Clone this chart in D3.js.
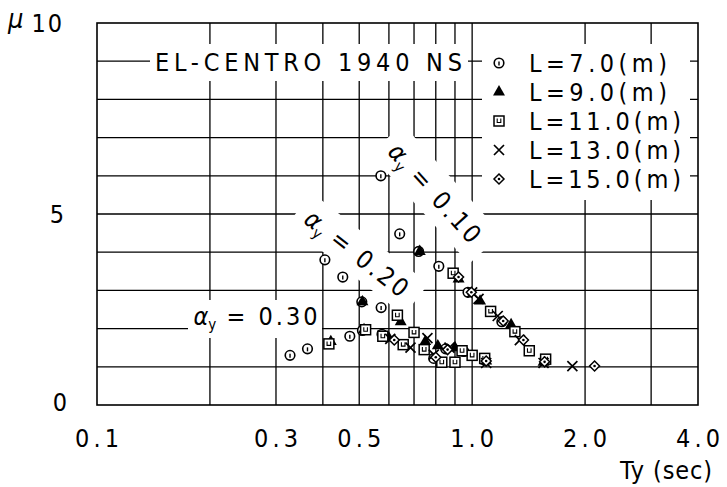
<!DOCTYPE html>
<html>
<head>
<meta charset="utf-8">
<script src="https://cdnjs.cloudflare.com/ajax/libs/d3/7.8.5/d3.min.js"></script>
<style>
  body { margin: 0; background: #fff; }
  text { font-family: "DejaVu Sans Condensed", "DejaVu Sans", sans-serif; font-stretch: condensed; fill: #000; }
</style>
</head>
<body>
<div id="chart"></div>
<script>
var width = 727
var height = 487

// data: [Ty (sec), mu] per series
var l7 = [[0.571,6.0],[0.641,4.48],[0.72,4.02],[0.815,3.63],[0.975,2.95],[1.2,2.18],
          [0.405,3.8],[0.452,3.35],[0.508,2.7],[0.572,2.55],
          [0.327,1.3],[0.364,1.47],[0.472,1.8],[0.51,1.95],[0.575,1.85],[0.79,1.22],[0.85,1.47],[0.95,1.4],[1.08,1.18]]
var l9 = [[0.725,4.02],[0.92,3.3],[1.05,2.72],[1.27,2.1],[1.55,1.12],
          [0.51,2.7],[0.645,2.18],
          [0.42,1.66],[0.515,1.97],[0.6,1.75],[0.75,1.66],[0.81,1.55],[0.9,1.5],[1.09,1.15]]
var l11 = [[0.89,3.45],[1.12,2.45],[1.3,1.92],[1.42,1.42],[1.57,1.2],
           [0.632,2.35],[0.7,1.9],[0.83,1.12],[0.9,1.12],[1.0,1.3],
           [0.415,1.6],[0.52,1.97],[0.578,1.8],[0.655,1.58],[0.745,1.45],[0.94,1.42],[1.08,1.22]]
var l13 = [[1.0,2.95],[1.04,2.78],[1.17,2.33],[1.34,1.7],[1.55,1.1],[1.85,1.02],
           [0.605,1.73],[0.685,1.5],[0.76,1.75],[0.87,1.5],[0.79,1.32],[1.09,1.1]]
var l15 = [[1.21,2.2],[1.37,1.7],[1.56,1.13],[2.12,1.02],[0.92,3.35],
           [0.62,1.7],[0.8,1.25],[0.86,1.45],[1.09,1.15],[0.995,2.95]]

var seriesNames = ["L=7.0(m)", "L=9.0(m)", "L=11.0(m)", "L=13.0(m)", "L=15.0(m)"]
var seriesSymbols = ["circle", "triangle", "square", "cross", "diamond"]
var xTickValues = [0.1, 0.3, 0.5, 1.0, 2.0, 4.0]
var xTickLabels = ["0.1", "0.3", "0.5", "1.0", "2.0", "4.0"]
var xGridValues = [0.2, 0.3, 0.4, 0.5, 0.6, 0.7, 0.8, 0.9, 1.0, 2.0, 3.0]
var yTickValues = [0, 5, 10]
var yGridValues = [1, 2, 3, 4, 5, 6, 7, 8, 9]

var svg = d3.select("#chart").append("svg")
    .attr("width", width)
    .attr("height", height)

var x = d3.scaleLog().domain([0.1, 4.0]).range([97, 698])
var y = d3.scaleLinear().domain([0, 10]).range([405, 23])

// grid
svg.append("g").selectAll("line").data(xGridValues).enter().append("line")
    .attr("x1", d => x(d)).attr("x2", d => x(d))
    .attr("y1", y(10)).attr("y2", y(0))
    .attr("stroke", "#000").attr("stroke-width", 1.3)
svg.append("g").selectAll("line").data(yGridValues).enter().append("line")
    .attr("x1", x(0.1)).attr("x2", x(4.0))
    .attr("y1", d => y(d)).attr("y2", d => y(d))
    .attr("stroke", "#000").attr("stroke-width", 1.3)

// white masks behind labels
var masks = svg.append("g").attr("fill", "#fff")
masks.append("rect").attr("x", 150).attr("y", 44).attr("width", 318).attr("height", 37)
masks.append("rect").attr("x", 482).attr("y", 44).attr("width", 208).attr("height", 156)
masks.append("rect").attr("x", 188).attr("y", 300).attr("width", 134).attr("height", 38)
masks.append("rect").attr("x", -74).attr("y", -22).attr("width", 148).attr("height", 44)
    .attr("transform", "translate(436,194) rotate(48)")
masks.append("rect").attr("x", -74).attr("y", -20).attr("width", 148).attr("height", 40)
    .attr("transform", "translate(358,254) rotate(38)")

// frame
svg.append("rect")
    .attr("x", x(0.1)).attr("y", y(10))
    .attr("width", x(4.0) - x(0.1)).attr("height", y(0) - y(10))
    .attr("fill", "none").attr("stroke", "#000").attr("stroke-width", 1.6)

// symbols
function drawSymbol(g, type, cx, cy) {
    if (type == "circle") {
        g.append("circle").attr("cx", cx).attr("cy", cy).attr("r", 4.8)
            .attr("fill", "#fff").attr("stroke", "#000").attr("stroke-width", 1.6)
        g.append("line").attr("x1", cx).attr("x2", cx).attr("y1", cy - 1.5).attr("y2", cy + 2.5)
            .attr("stroke", "#000").attr("stroke-width", 1.4)
    } else if (type == "triangle") {
        g.append("path").attr("d", d3.symbol().type(d3.symbolTriangle).size(62)())
            .attr("transform", "translate(" + cx + "," + cy + ")").attr("fill", "#000")
    } else if (type == "square") {
        g.append("rect").attr("x", cx - 5).attr("y", cy - 5).attr("width", 10).attr("height", 10)
            .attr("fill", "#fff").attr("stroke", "#000").attr("stroke-width", 1.5)
        g.append("path").attr("d", "M" + (cx - 1.8) + "," + (cy - 2.5) + "v4h3.6v-4")
            .attr("fill", "none").attr("stroke", "#000").attr("stroke-width", 1.1)
    } else if (type == "cross") {
        g.append("path").attr("d", "M" + (cx - 5) + "," + (cy - 5) + "l10,10M" + (cx + 5) + "," + (cy - 5) + "l-10,10")
            .attr("stroke", "#000").attr("stroke-width", 1.7)
    } else if (type == "diamond") {
        g.append("path").attr("d", "M" + cx + "," + (cy - 5) + "l5,5l-5,5l-5,-5z")
            .attr("fill", "#fff").attr("stroke", "#000").attr("stroke-width", 1.5)
        g.append("circle").attr("cx", cx).attr("cy", cy).attr("r", 1.3).attr("fill", "#000")
    }
}

var allSeries = [l7, l9, l11, l13, l15]
allSeries.forEach(function(data, i) {
    var g = svg.append("g")
    data.forEach(function(d) {
        drawSymbol(g, seriesSymbols[i], x(d[0]), y(d[1]))
    })
})

// text helper
function label(txt, px, py, size, len, anchor) {
    var t = svg.append("text").attr("x", px).attr("y", py)
        .attr("font-size", size).text(txt)
    if (anchor) t.attr("text-anchor", anchor)
    if (len) t.attr("textLength", len).attr("lengthAdjust", "spacing")
    return t
}

// axes labels
xTickValues.forEach(function(v, i) {
    label(xTickLabels[i], x(v), 447, 25, 44, "middle")
})
label("10", 64, 32, 25, null, "end").attr("letter-spacing", 2)
label("5", 64, 223, 25, null, "end")
label("0", 67, 411, 25, null, "end")
label("\u03bc", 8, 28, 27, null, null).attr("font-style", "italic")
label("Ty (sec)", 712, 479, 25, 92, "end")

// title
label("EL-CENTRO 1940 NS", 155, 71, 25, 307, null)

// legend
var legendY = [63, 92, 121, 150, 179]
seriesNames.forEach(function(name, i) {
    var g = svg.append("g")
    drawSymbol(g, seriesSymbols[i], 499, legendY[i])
    label(name, 529, legendY[i] + 9, 25, name.length == 8 ? 138 : 152, null)
})

// alpha labels
function alphaLabel(val, tx, ty, ang) {
    var t = svg.append("text").attr("font-size", 25)
        .attr("transform", "translate(" + tx + "," + ty + ") rotate(" + ang + ")")
        .attr("text-anchor", "middle").attr("dy", 9)
    t.append("tspan").text("\u03b1").attr("font-style", "italic")
    t.append("tspan").text("y").attr("font-size", 15).attr("dy", 5)
    t.append("tspan").text(" = " + val).attr("dy", -5).attr("letter-spacing", 3)
    return t
}
alphaLabel("0.10", 436, 194, 48)
alphaLabel("0.20", 358, 254, 38)
alphaLabel("0.30", 257, 316, 0)
</script>
</body>
</html>
